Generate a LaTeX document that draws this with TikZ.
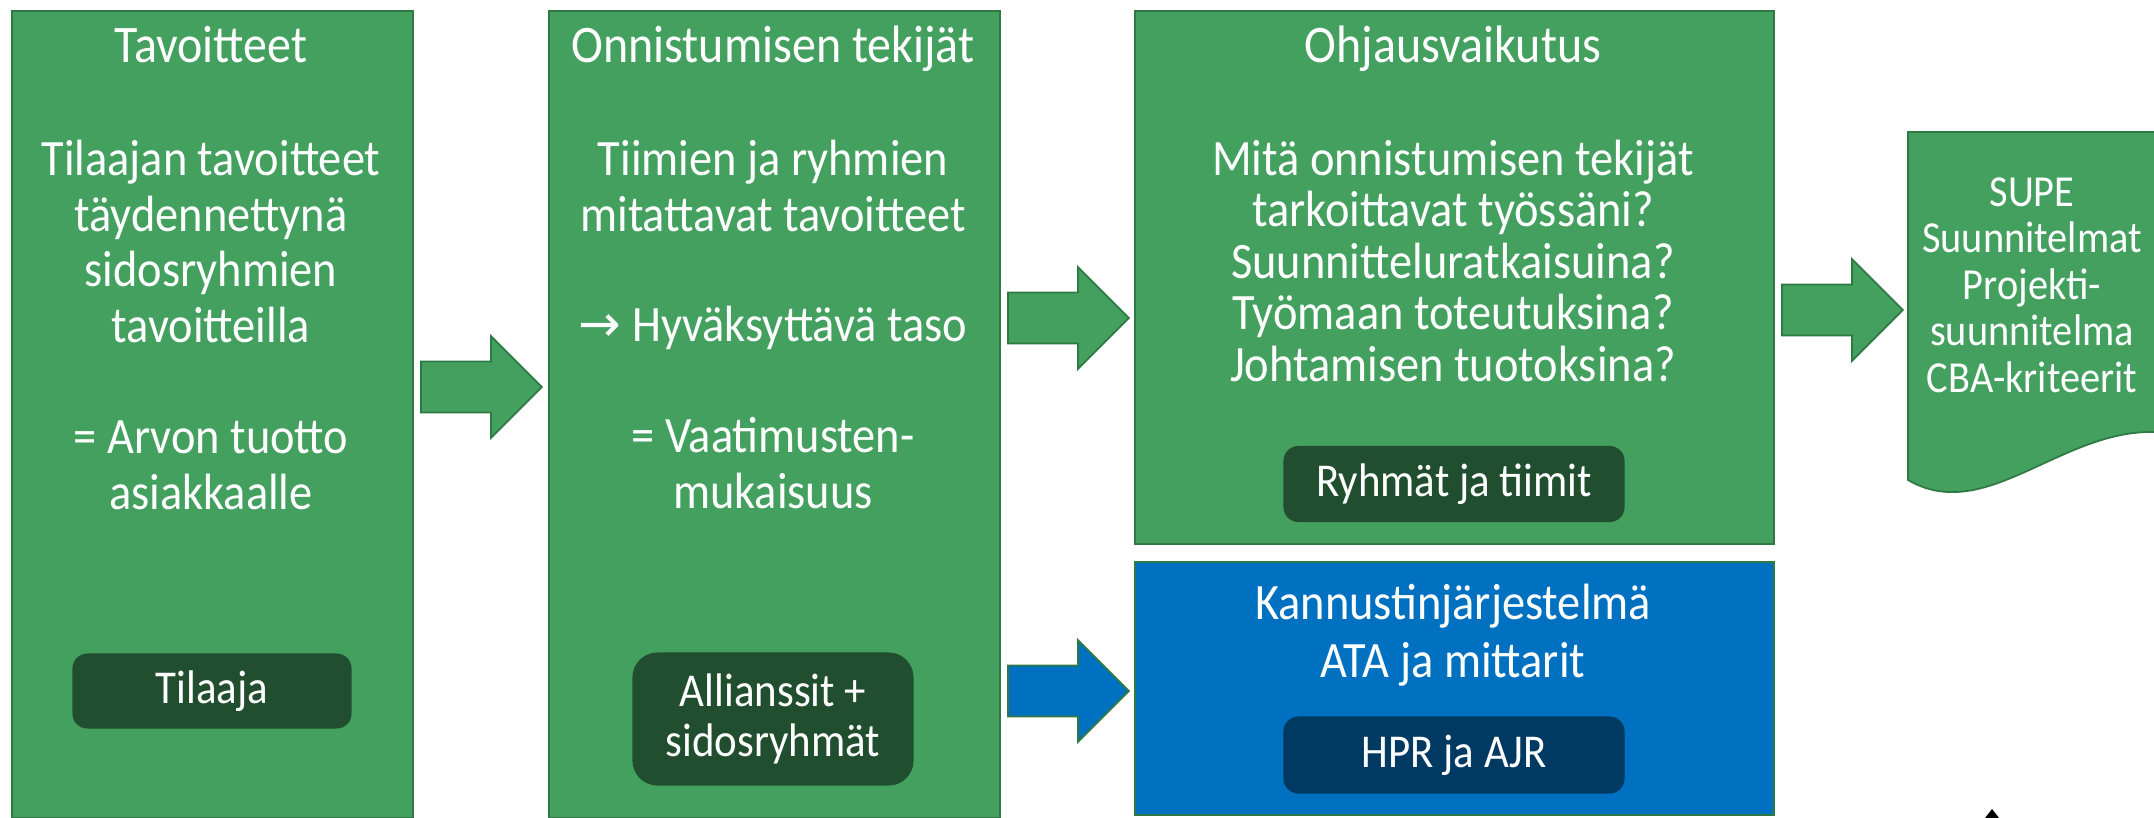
\documentclass[tikz,border=0pt]{standalone}
\usepackage{fontspec}
\setmainfont{Carlito}[FakeStretch=0.91]
\newfontfamily\arrowfont{DejaVu Sans}
\usetikzlibrary{shapes.arrows}

\definecolor{boxgreen}{HTML}{43A05F}
\definecolor{edgegreen}{HTML}{2F7A44}
\definecolor{taggreen}{HTML}{214E2F}
\definecolor{boxblue}{HTML}{0070C0}
\definecolor{tagblue}{HTML}{003A63}

\tikzset{
  panel/.style={draw=edgegreen, line width=0.5pt, fill=boxgreen, anchor=north west},
  bluepanel/.style={panel, fill=boxblue},
  head/.style={text=white, inner sep=0pt, font=\fontsize{15}{15.9}\selectfont},
  body/.style={head, align=center, anchor=north, font=\fontsize{14.5}{15.9}\selectfont},
  tag/.style={fill=taggreen, text=white, inner sep=0pt, align=center, rounded corners=0.15cm,
    font=\fontsize{13.4}{14.2}\selectfont},
  blocktag/.style={tag, fill=tagblue},
  blockarrow/.style={single arrow, draw=edgegreen, line width=0.5pt, fill=boxgreen, anchor=tail,
    minimum height=1.21cm, inner sep=0.245cm, single arrow head extend=0.255cm},
}

\begin{document}
\begin{tikzpicture}[x=0.01cm, y=-0.01cm]
  \useasboundingbox (0,0) rectangle (2154,818);

  % panels
  \node[panel, minimum width=4.01cm, minimum height=8.07cm] (tavoitteet) at (11,10) {};
  \node[panel, minimum width=4.51cm, minimum height=8.07cm] (tekijat) at (548,10) {};
  \node[panel, minimum width=6.39cm, minimum height=5.33cm] (ohjaus) at (1134,10) {};
  \node[bluepanel, minimum width=6.39cm, minimum height=2.53cm] (kannustin) at (1134,561) {};

  % document at the right edge
  \fill[boxgreen] (1908,132) -- (2154,132) -- (2154,432)
    .. controls (2060,430) and (1985,525) .. (1908,480) -- cycle;
  \draw[edgegreen, line width=0.5pt] (2154,132) -- (1908,132) -- (1908,480)
    .. controls (1985,525) and (2060,430) .. (2154,432);

  % arrows
  \node[blockarrow] (arr1) at (420,387) {};
  \node[blockarrow] (arr2) at (1007,318) {};
  \node[blockarrow, fill=boxblue] (arr3) at (1007,691) {};
  \node[blockarrow] (arr4) at (1781,310) {};

  % titles
  \node[head, anchor=base] (t1) at (211,62) {Tavoitteet};
  \node[head, anchor=base] (t2) at (773,62) {Onnistumisen tekijät};
  \node[head, anchor=base] (t3) at (1453,62) {Ohjausvaikutus};

  % texts
  \node[body] (txt1) at (211,139) {Tilaajan tavoitteet\\täydennettynä\\sidosryhmien\\tavoitteilla\\[0.55cm]
    = Arvon tuotto\\asiakkaalle};
  \node[body] (txt2) at (773,139) {Tiimien ja ryhmien\\mitattavat tavoitteet\\[0.55cm]
    {\arrowfont →} Hyväksyttävä taso\\[0.55cm]= Vaatimusten-\\mukaisuus};
  \node[body, font=\fontsize{14.5}{14.65}\selectfont] (txt3) at (1453,139) {Mitä onnistumisen tekijät\\
    tarkoittavat työssäni?\\Suunnitteluratkaisuina?\\Työmaan toteutuksina?\\Johtamisen tuotoksina?};
  \node[body, font=\fontsize{14.5}{16.5}\selectfont] (txt4) at (1453,583) {Kannustinjärjestelmä\\ATA ja mittarit};
  \node[body, font=\fontsize{12.6}{13.2}\selectfont] (txt5) at (2032,177) {SUPE\\Suunnitelmat\\Projekti-\\suunnitelma\\CBA-kriteerit};

  % tags
  \node[tag, minimum width=2.79cm, minimum height=0.75cm] (tilaaja) at (212,691) {Tilaaja};
  \node[tag, minimum width=2.81cm, minimum height=1.33cm, rounded corners=0.25cm] (allianssit) at (773,719) {Allianssit +\\sidosryhmät};
  \node[tag, minimum width=3.41cm, minimum height=0.76cm] (ryhmat) at (1454,484) {Ryhmät ja tiimit};
  \node[blocktag, minimum width=3.41cm, minimum height=0.77cm] (hpr) at (1454,755) {HPR ja AJR};

  % small mark at the bottom edge
  \fill[black] (1985,818) -- (1992,809) -- (1999,818) -- cycle;
\end{tikzpicture}
\end{document}
